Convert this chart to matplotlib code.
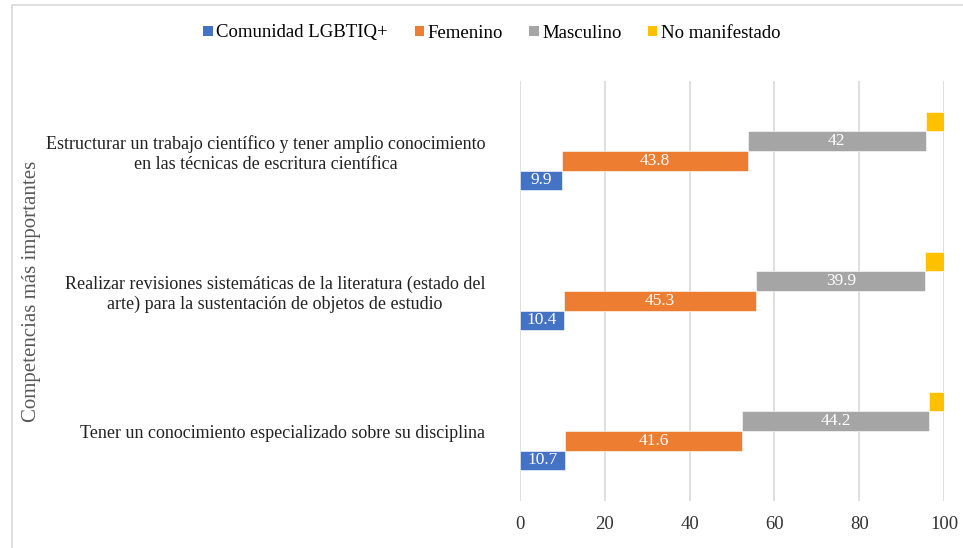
import matplotlib
matplotlib.use("Agg")
from matplotlib import pyplot as plt
from matplotlib.patches import Rectangle, Patch
import numpy as np

# data
categories = [
    "Estructurar un trabajo científico y tener amplio conocimiento\nen las técnicas de escritura científica",
    "Realizar revisiones sistemáticas de la literatura (estado del\narte) para la sustentación de objetos de estudio",
    "Tener un conocimiento especializado sobre su disciplina",
]
series_names = ["Comunidad LGBTIQ+", "Femenino", "Masculino", "No manifestado"]
lgbtiq = [9.9, 10.4, 10.7]
femenino = [43.8, 45.3, 41.6]
masculino = [42.0, 39.9, 44.2]
no_manifestado = [4.3, 4.4, 3.5]
show_labels = [True, True, True, False]

colors = ["#4472C4", "#ED7D31", "#A5A5A5", "#FFC000"]
serif = "Liberation Serif"

fig = plt.figure(figsize=(9.63, 5.48), dpi=100)
ax = fig.add_axes([520 / 963, 1 - 501 / 548, (944 - 520) / 963, (501 - 81) / 548])

# chart border (cropped on right and bottom like the source)
fig.patches.append(Rectangle((12 / 963, -0.1), 1.2, 1 - 4.5 / 548 + 0.1, transform=fig.transFigure,
                             fill=False, edgecolor="#d9d9d9", linewidth=1.2))

y = np.arange(len(categories))
h = 0.14
offsets = [1.5 * h, 0.5 * h, -0.5 * h, -1.5 * h]
all_series = [lgbtiq, femenino, masculino, no_manifestado]

left = np.zeros(len(categories))
for vals, name, col, off, lab in zip(all_series, series_names, colors, offsets, show_labels):
    vals = np.array(vals)
    bars = ax.barh(y + off, vals, height=h, left=left, color=col, label=name,
                   edgecolor="white", linewidth=0.4, zorder=3)
    if lab:
        for b, v in zip(bars, vals):
            ax.text(b.get_x() + b.get_width() / 2, b.get_y() + b.get_height() / 2, f"{v:g}",
                    ha="center", va="center", color="white", fontsize=12.5, family=serif, zorder=4)
    left = left + vals

ax.set_xlim(0, 100)
ax.set_ylim(2.5, -0.5)
ax.set_xticks([0, 20, 40, 60, 80, 100])
ax.set_yticks(y)
ax.set_yticklabels(categories, multialignment="center", family=serif, fontsize=13, color="#222222")
for t in ax.get_xticklabels():
    t.set_family(serif)
    t.set_fontsize(13.5)
    t.set_color("#333333")
ax.tick_params(axis="y", length=0, pad=25)
ax.tick_params(axis="x", length=0, pad=11)
ax.grid(axis="x", color="#d9d9d9", linewidth=1.2, zorder=0)
for s in ax.spines.values():
    s.set_visible(False)

fig.text(32 / 963, 1 - 291 / 548, "Competencias más importantes", rotation=90, ha="center", va="center",
         family=serif, fontsize=15, color="#595959")

handles = [Patch(facecolor=c, edgecolor="none") for c in colors]
fig.legend(handles, series_names, loc="center", bbox_to_anchor=(492 / 963, 1 - 33 / 548), ncol=4,
           frameon=False, prop={"family": serif, "size": 13.5}, handlelength=0.5, handleheight=0.5,
           handletextpad=0.2, columnspacing=1.4)

fig.savefig("out.png", dpi=100)
